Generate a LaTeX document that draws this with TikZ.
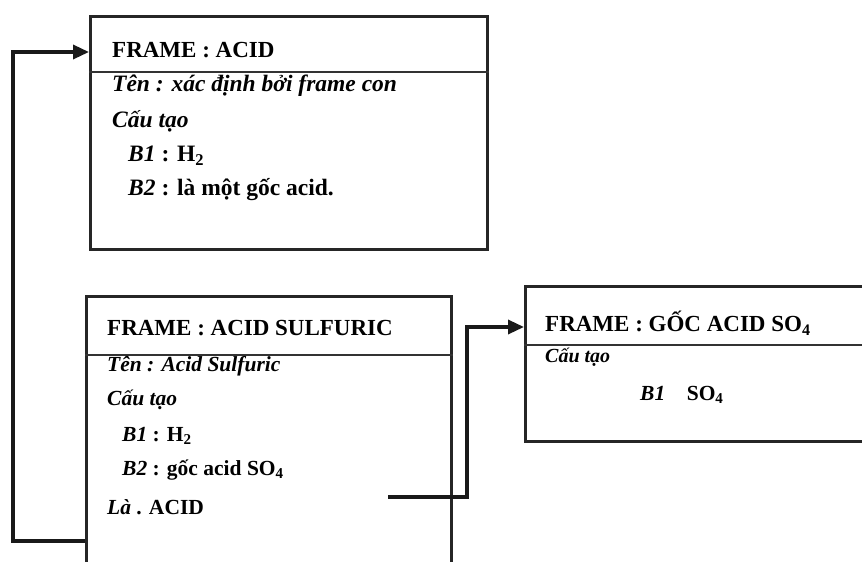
\documentclass[tikz,border=0pt]{standalone}
\usepackage{fontspec}
\setmainfont{Liberation Serif}
\usetikzlibrary{arrows.meta}
\begin{document}
\begin{tikzpicture}[x=1pt,y=-1pt,
  frame/.style={draw=black!85, line width=3.4pt, rectangle, inner sep=0pt, anchor=north west},
  sepline/.style={draw=black!80, line width=1.8pt},
  conn/.style={draw=black!90, line width=3.4pt, -{Triangle[length=16pt,width=14pt]}},
  head/.style={anchor=west, font=\fontsize{23}{25}\selectfont\bfseries, inner sep=0pt},
  body/.style={anchor=west, font=\fontsize{21.5}{23}\selectfont\bfseries, inner sep=0pt},
  bodybig/.style={anchor=west, font=\fontsize{23.5}{25}\selectfont\bfseries, inner sep=0pt},
  small/.style={anchor=west, font=\fontsize{20}{22}\selectfont\bfseries\itshape, inner sep=0pt}]
\useasboundingbox (0,0) rectangle (862,562);
\clip (0,0) rectangle (862,562);
% frames
\node[frame, minimum width=397pt, minimum height=233pt] (b1) at (89,15) {};
\node[frame, minimum width=365pt, minimum height=290pt] (b2) at (85,295) {};
\node[frame, minimum width=356pt, minimum height=155pt] (b3) at (524,285) {};
% separators
\coordinate (s1) at (0,72);
\coordinate (s2y) at (0,355);
\coordinate (s3) at (0,345);
\draw[sepline] (b1.west |- s1) -- (b1.east |- s1);
\draw[sepline] (b2.west |- s2y) -- (b2.east |- s2y);
\draw[sepline] (b3.west |- s3) -- (b3.east |- s3);
% frame ACID
\node[head] (h1) at (112,50) {FRAME : ACID};
\node[bodybig] (a1) at (112,86) {\itshape Tên : xác định bởi frame con};
\node[bodybig] (a2) at (112,121) {\itshape Cấu tạo};
\node[bodybig] (a3) at (128,156) {\textit{B1} : H\textsubscript{2}};
\node[bodybig] (a4) at (128,190) {\textit{B2} : là một gốc acid.};
% frame ACID SULFURIC
\node[head] (h2) at (107,328) {FRAME : ACID SULFURIC};
\node[body] (c1) at (107,366) {\itshape Tên : Acid Sulfuric};
\node[body] (c2) at (107,400) {\itshape Cấu tạo};
\node[body] (c3) at (122,436) {\textit{B1} : H\textsubscript{2}};
\node[body] (c4) at (122,470) {\textit{B2} : gốc acid SO\textsubscript{4}};
\node[body] (c5) at (107,507) {\textit{Là} . ACID};
% frame GOC ACID SO4
\node[head] (h3) at (545,323) {FRAME : GỐC ACID SO\textsubscript{4}};
\node[small] (d1) at (545,357) {Cấu tạo};
\node[body] (d2) at (640,395) {\textit{B1}\hspace{1em}SO\textsubscript{4}};
% connectors
\coordinate (k1) at (13,541);
\coordinate (k2) at (13,52);
\draw[conn] (b2.west |- k1) -- (k1) -- (k2) -- (b1.west |- k2);
\coordinate (st) at (388,497);
\coordinate (k3) at (467,327);
\draw[conn, line width=3.3pt] (st) -- (st -| k3) -- (k3) -- (b3.west |- k3);
\end{tikzpicture}
\end{document}
